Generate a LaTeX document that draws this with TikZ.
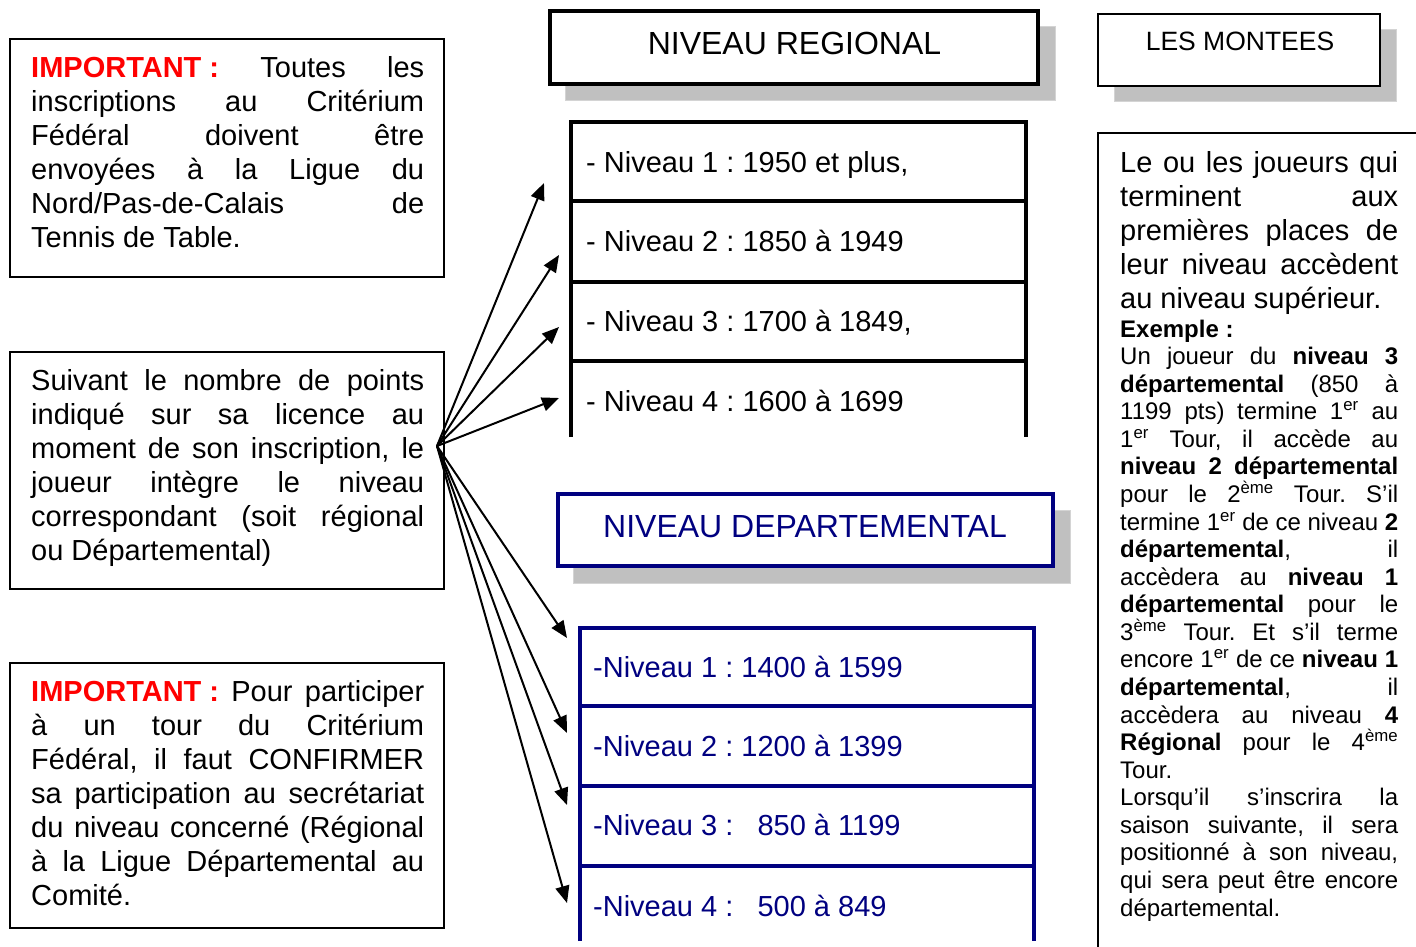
\documentclass[tikz,border=0pt]{standalone}
\usepackage{fontspec}
\setmainfont{Liberation Sans}
\usetikzlibrary{arrows.meta}
\definecolor{impred}{RGB}{255,0,0}
\definecolor{navyc}{RGB}{0,0,128}
\definecolor{shadowc}{RGB}{192,192,192}
\definecolor{shadowb}{RGB}{212,212,212}
\newcommand{\mysetup}{\hyphenpenalty=10000 \exhyphenpenalty=10000 \parskip=0pt \parindent=0pt \frenchspacing}
\newcommand{\bigtxt}{\fontsize{29}{34}\selectfont\mysetup}
\newcommand{\leadtxt}{\fontsize{29}{33.9}\selectfont\mysetup}
\newcommand{\smalltxt}{\fontsize{24}{27.57}\selectfont\mysetup}
\newcommand{\itemfont}{\fontsize{29}{34}\selectfont\frenchspacing}
\newcommand{\imp}{\textcolor{impred}{\mbox{\textbf{IMPORTANT :}}}}
\begin{document}
\begin{tikzpicture}[x=1pt,y=-1pt,
  lbox/.style={draw=black, line width=1.5pt},
  para/.style={inner sep=0pt, anchor=north west, align=justify, font=\bigtxt},
  leadpara/.style={inner sep=0pt, anchor=north west, align=justify, font=\leadtxt},
  spara/.style={inner sep=0pt, anchor=north west, align=justify, font=\smalltxt},
  shadowbox/.style={fill=shadowc, draw=shadowb, line width=1pt},
  regframe/.style={draw=black, line width=4pt, fill=white},
  depframe/.style={draw=navyc, line width=4pt, fill=white},
  montframe/.style={draw=black, line width=2pt, fill=white},
  titletxt/.style={inner sep=0pt, anchor=base, font=\fontsize{32}{38}\selectfont},
  itemtxt/.style={inner sep=0pt, anchor=base west, font=\itemfont},
  arr/.style={draw=black, line width=2pt, -{Triangle[length=17pt,width=14pt]}},
]
\useasboundingbox (0,0) rectangle (1416,947);

% ---------- left boxes ----------
\draw[lbox] (10,39) rectangle (444,277);
\node[para, text width=393pt] (imp1) at (31,56.5)
 {\imp{} Toutes les\linebreak
  inscriptions au Critérium\linebreak
  Fédéral doivent être\linebreak
  envoyées à la Ligue du\linebreak
  Nord/Pas-de-Calais de\linebreak
  Tennis de Table.};

\draw[lbox] (10,352) rectangle (444,589);
\node[para, text width=393pt] (suiv) at (31,369.5)
 {Suivant le nombre de points\linebreak
  indiqué sur sa licence au\linebreak
  moment de son inscription, le\linebreak
  joueur intègre le niveau\linebreak
  correspondant (soit régional\linebreak
  ou Départemental)};

\draw[lbox] (10,663) rectangle (444,928);
\node[para, text width=393pt] (imp2) at (31,680.5)
 {\imp{} Pour participer\linebreak
  à un tour du Critérium\linebreak
  Fédéral, il faut CONFIRMER\linebreak
  sa participation au secrétariat\linebreak
  du niveau concerné (Régional\linebreak
  à la Ligue Départemental au\linebreak
  Comité.};

% ---------- regional ----------
\draw[shadowbox] (565,27) rectangle (1055,101);
\draw[regframe] (550,11) rectangle (1038,84);
\node[titletxt] (regt) at (794.5,54.5) {NIVEAU REGIONAL};

\draw[draw=black, line width=4pt] (571,437) -- (571,122) -- (1026,122) -- (1026,437);
\draw[draw=black, line width=4pt] (571,201) -- (1026,201);
\draw[draw=black, line width=4pt] (571,282) -- (1026,282);
\draw[draw=black, line width=4pt] (571,361) -- (1026,361);
\node[itemtxt] (r1) at (586,172.5) {- Niveau 1 : 1950 et plus,};
\node[itemtxt] (r2) at (586,251.5) {- Niveau 2 : 1850 à 1949};
\node[itemtxt] (r3) at (586,331.5) {- Niveau 3 : 1700 à 1849,};
\node[itemtxt] (r4) at (586,411.5) {- Niveau 4 : 1600 à 1699};

% ---------- departemental ----------
\draw[shadowbox] (573,510) rectangle (1070,583);
\draw[depframe] (558,494) rectangle (1053,566);
\node[titletxt, text=navyc] (dept) at (805,537.5) {NIVEAU DEPARTEMENTAL};

\draw[draw=navyc, line width=4pt] (580,941) -- (580,628) -- (1034,628) -- (1034,941);
\draw[draw=navyc, line width=4pt] (580,706) -- (1034,706);
\draw[draw=navyc, line width=4pt] (580,786) -- (1034,786);
\draw[draw=navyc, line width=4pt] (580,866) -- (1034,866);
\node[itemtxt, text=navyc] (d1) at (593,677.5) {-Niveau 1 : 1400 à 1599};
\node[itemtxt, text=navyc] (d2) at (593,756.5) {-Niveau 2 : 1200 à 1399};
\node[itemtxt, text=navyc] (d3) at (593,835.5) {-Niveau 3 :\ \ \ 850 à 1199};
\node[itemtxt, text=navyc] (d4) at (593,916.5) {-Niveau 4 :\ \ \ 500 à 849};

% ---------- arrows ----------
\coordinate (src) at (437,446);
\coordinate (ta1) at (544,183);
\coordinate (ta2) at (559,255);
\coordinate (ta3) at (559,327);
\coordinate (ta4) at (559,398);
\coordinate (tb1) at (567,638);
\coordinate (tb2) at (567,733);
\coordinate (tb3) at (567,805);
\coordinate (tb4) at (567,903);
\foreach \t in {ta1,ta2,ta3,ta4,tb1,tb2,tb3,tb4} \draw[arr] (src) -- (\t);

% ---------- les montees ----------
\draw[shadowbox] (1114,30) rectangle (1396,102);
\draw[montframe] (1098,14) rectangle (1380,86);
\node[titletxt, font=\fontsize{26.5}{31}\selectfont] (mont) at (1240,50.5) {LES MONTEES};

\draw[draw=black, line width=2pt] (1098,948) -- (1098,133) -- (1420,133);
\node[leadpara, text width=278pt] (lead) at (1120,151.5)
 {Le ou les joueurs qui\linebreak
  terminent aux\linebreak
  premières places de\linebreak
  leur niveau accèdent\linebreak
  au niveau supérieur.};
\node[spara, text width=278pt] (ex) at (1120,319.5)
 {\textbf{Exemple :}\par
  Un joueur du \textbf{niveau 3}\linebreak
  \textbf{départemental} (850 à\linebreak
  1199 pts) termine 1\textsuperscript{er} au\linebreak
  1\textsuperscript{er} Tour, il accède au\linebreak
  \textbf{niveau 2 départemental}\linebreak
  pour le 2\textsuperscript{ème} Tour. S’il\linebreak
  termine 1\textsuperscript{er} de ce niveau \textbf{2}\linebreak
  \textbf{départemental}, il\linebreak
  accèdera au \textbf{niveau 1}\linebreak
  \textbf{départemental} pour le\linebreak
  3\textsuperscript{ème} Tour. Et s’il terme\linebreak
  encore 1\textsuperscript{er} de ce \textbf{niveau 1}\linebreak
  \textbf{départemental}, il\linebreak
  accèdera au niveau \textbf{4}\linebreak
  \textbf{Régional} pour le 4\textsuperscript{ème}\linebreak
  Tour.\par
  Lorsqu’il s’inscrira la\linebreak
  saison suivante, il sera\linebreak
  positionné à son niveau,\linebreak
  qui sera peut être encore\linebreak
  départemental.};
\end{tikzpicture}
\end{document}
